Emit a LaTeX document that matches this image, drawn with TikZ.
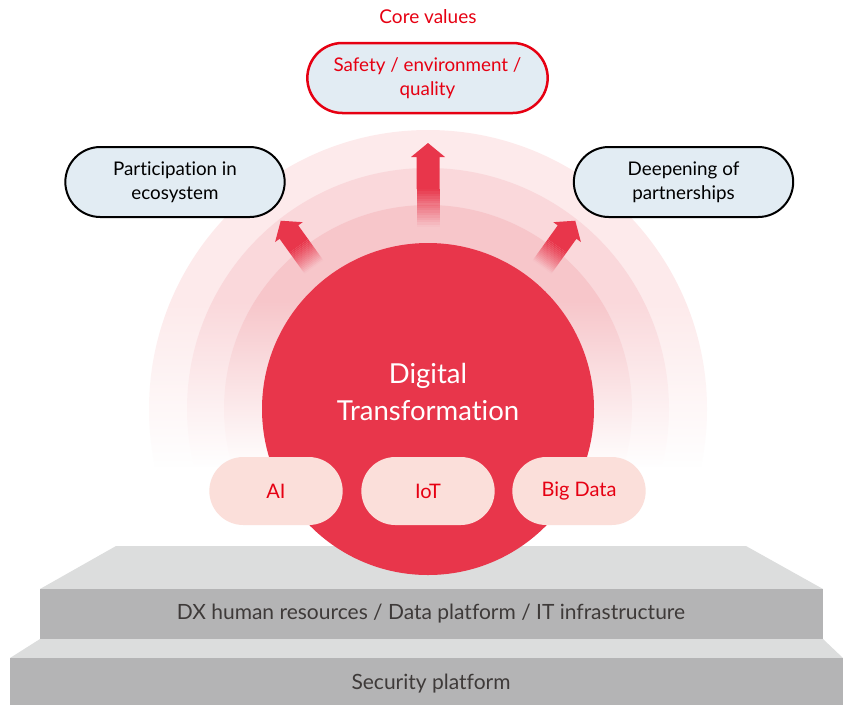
\documentclass[tikz,border=0pt]{standalone}
\usepackage{fontspec}
\setmainfont{Lato}[Ligatures={NoCommon,NoRare,NoContextual}]
\usetikzlibrary{fadings,shapes.misc}
\definecolor{dxred}{HTML}{E8364B}
\definecolor{txtred}{HTML}{E60012}
\definecolor{ringa}{HTML}{FDEAEB}
\definecolor{ringb}{HTML}{FAD8DB}
\definecolor{ringc}{HTML}{F7C6CA}
\definecolor{pillblue}{HTML}{E2ECF3}
\definecolor{pillpink}{HTML}{FBDFDA}
\definecolor{topface}{HTML}{DCDDDD}
\definecolor{frontface}{HTML}{B4B4B5}
\definecolor{darktxt}{HTML}{3E3A39}
\tikzfading[name=fadeup, top color=transparent!100, bottom color=transparent!0]
\newcommand{\fadearrow}[5]{%
  \begin{scope}[shift={(#1,#2)}, rotate=#3]
    \fill[dxred] (-11.5,-#5) -- (-11.5,-#4+14) -- (-17,-#4+14) -- (0,-#4) -- (17,-#4+14) -- (11.5,-#4+14) -- (11.5,-#5) -- cycle;
    \foreach \i [evaluate=\i as \op using (\i+0.5)/16] in {0,...,15}{
      \fill[dxred, opacity=\op] (-11.5,{-\i*#5/16}) rectangle (11.5,{-(\i+1)*#5/16});
    }
  \end{scope}}
\tikzset{
  pill/.style={rounded rectangle, minimum width=226pt, minimum height=70pt, line width=2pt, fill=pillblue, align=center, font=\fontsize{18.8}{24.5}\selectfont},
  tech/.style={rounded rectangle, minimum width=140pt, minimum height=68pt, fill=pillpink, text=txtred, font=\fontsize{20}{22}\selectfont},
  layertext/.style={text=darktxt, font=\fontsize{21}{24}\selectfont}
}
\begin{document}
\begin{tikzpicture}[x=1pt,y=-1pt]
\useasboundingbox (0,0) rectangle (843,705);
% halo rings
\fill[ringa] (428,409) circle[radius=279pt];
\fill[ringb] (428,409) circle[radius=241pt];
\fill[ringc] (428,409) circle[radius=204pt];
\fill[white, path fading=fadeup] (140,300) rectangle (720,468);
\fill[white] (140,467) rectangle (720,546);
% arrows
\fadearrow{428}{227}{0}{84}{38}
\fadearrow{314}{267}{35.7}{57}{26}
\fadearrow{542}{267}{-35.7}{57}{26}
% platforms
\fill[topface] (116,546) -- (746,546) -- (823,589) -- (40,589) -- cycle;
\fill[frontface] (40,589) rectangle (823,639);
\fill[topface] (40,639) -- (823,639) -- (843,658) -- (10,658) -- cycle;
\fill[frontface] (10,658) rectangle (843,705);
\node[layertext] (dxlayer) at (431,614) {DX human resources / Data platform / IT infrastructure};
\node[layertext] (seclayer) at (431,684) {Security platform};
% main circle
\node[circle, fill=dxred, minimum size=332pt, inner sep=0pt] (dx) at (428,409) {};
\node[text=white, align=center, font=\fontsize{27.5}{37}\selectfont] (dxt) at (428,392) {Digital\\Transformation};
% tech pills
\node[tech] (ai) at (276,491) {AI};
\node[tech] (iot) at (428,491) {IoT};
\node[tech] (big) at (579,491) {Big Data};
% top pills
\node[text=txtred, font=\fontsize{19}{22}\selectfont] (core) at (428,17) {Core values};
\node[pill, draw=txtred, line width=2.5pt, minimum width=247pt, text=txtred] (safety) at (427.5,78) {\raisebox{-2pt}{\parbox{190pt}{\centering Safety / environment /\\quality}}};
\node[pill, draw=black] (part) at (175,182) {\raisebox{-2pt}{\parbox{150pt}{\centering Participation in\\ecosystem}}};
\node[pill, draw=black] (deep) at (683.5,182) {\raisebox{-2pt}{\parbox{150pt}{\centering Deepening of\\partnerships}}};
\end{tikzpicture}
\end{document}
